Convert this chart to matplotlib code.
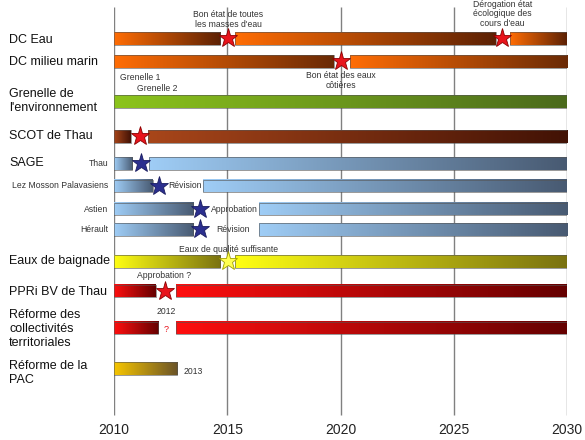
import matplotlib.pyplot as plt
import numpy as np
from matplotlib.colors import LinearSegmentedColormap
from matplotlib.transforms import blended_transform_factory

plt.rcParams['font.family'] = ['Liberation Sans', 'DejaVu Sans']

# rows of the timeline
row_names = ["DC Eau", "DC milieu marin", "Grenelle de\nl'environnement", "SCOT de Thau",
             "Thau", "Lez Mosson Palavasiens", "Astien", "Hérault",
             "Eaux de baignade", "PPRi BV de Thau",
             "Réforme des\ncollectivités\nterritoriales", "Réforme de la\nPAC"]
seg_starts = [[2010, 2015.35, 2027.5], [2010, 2020.4], [2010], [2010, 2011.5],
              [2010, 2011.55], [2010, 2013.95], [2010, 2016.4], [2010, 2016.4],
              [2010, 2015.35], [2010, 2012.75], [2010, 2012.75], [2010]]
seg_ends = [[2014.7, 2026.85, 2030], [2019.7, 2030], [2030], [2010.75, 2030],
            [2010.8, 2030], [2011.7, 2030], [2013.5, 2030], [2013.5, 2030],
            [2014.7, 2030], [2011.85, 2030], [2011.95, 2030], [2012.8]]
star_years = [[2015.05, 2027.15], [2020.0], [], [2011.15],
              [2011.2], [2012.0], [2013.8], [2013.8],
              [2015.05], [2012.25], [], []]
years = [2010, 2015, 2020, 2025, 2030]

# layout / style
row_y = [38.5, 61.5, 101.5, 136.5, 163.5, 186, 209, 229.5, 261.5, 291, 328, 368.5]
bar_h = 12.5
row_cols = [("#ff6d05", "#5c2104"), ("#ff6d05", "#6a2a06"), ("#8cc41c", "#4b6a1d"),
            ("#a8461a", "#421205"), ("#9fcdf6", "#485a72"), ("#9fcdf6", "#485a72"),
            ("#9fcdf6", "#485a72"), ("#9fcdf6", "#485a72"), ("#ffff14", "#7a7210"),
            ("#ff0f0f", "#650000"), ("#ff0f0f", "#650000"), ("#f7c600", "#6a5328")]
star_cols = [("#e8141c", "#8b0000")] * 4 + [("#2b2f8f", "#1a1d60")] * 4 + \
            [("#ffff50", "#a0a000"), ("#e8141c", "#8b0000"), ("#e8141c", "#8b0000"), ("#e8141c", "#8b0000")]

fig = plt.figure(figsize=(5.85, 4.40), dpi=100)
ax = fig.add_axes([114 / 585, 0, (567 - 114) / 585, 1])
ax.axis("off")

ax.vlines(years, 7, 415, color="#808080", lw=1, zorder=1)
for yr in years:
    ax.text(yr, 430, str(yr), ha="center", va="center", fontsize=10, color="#222222")

grad = np.linspace(0, 1, 256).reshape(1, -1)
for i in range(len(row_names)):
    cm = LinearSegmentedColormap.from_list("c%d" % i, row_cols[i])
    y = row_y[i]
    for s, e in zip(seg_starts[i], seg_ends[i]):
        ax.imshow(grad, cmap=cm, aspect="auto", extent=[s, e, y + bar_h / 2, y - bar_h / 2],
                  zorder=2, interpolation="bilinear")
        ax.add_patch(plt.Rectangle((s, y - bar_h / 2), e - s, bar_h, fill=False,
                                   ec="#555555", lw=0.6, alpha=0.7, zorder=3))
    for sx in star_years[i]:
        ax.plot(sx, y, marker="*", ms=14, color=star_cols[i][0], mec=star_cols[i][1],
                mew=0.6, zorder=4)

ax.set_xlim(2010, 2030)
ax.set_ylim(440, 0)

# row labels on the left
tr = blended_transform_factory(fig.transFigure, ax.transData)
big = {0: 40, 1: 62, 2: 101, 3: 136, 8: 261, 9: 292, 10: 329, 11: 373}
for i, yy in big.items():
    ax.text(9 / 585, yy, row_names[i], transform=tr, ha="left", va="center",
            fontsize=9, color="#111111", linespacing=1.25)
ax.text(9 / 585, 163.5, "SAGE", transform=tr, ha="left", va="center", fontsize=9, color="#111111")
for i in [4, 5, 6, 7]:
    ax.text(108 / 585, row_y[i], row_names[i], transform=tr, ha="right", va="center",
            fontsize=6.2, color="#333333")

# annotations
small = dict(fontsize=6.2, color="#333333")
ax.text(2015.05, 19.5, "Bon état de toutes\nles masses d'eau", ha="center", va="center", linespacing=1.1, **small)
ax.text(2027.15, 14, "Dérogation état\nécologique des\ncours d'eau", ha="center", va="center", linespacing=1.1, **small)
ax.text(2020.0, 80.5, "Bon état des eaux\ncôtières", ha="center", va="center", linespacing=1.1, **small)
ax.text(2010.25, 77, "Grenelle 1", ha="left", va="center", **small)
ax.text(2011.0, 88.5, "Grenelle 2", ha="left", va="center", **small)
ax.text(2012.4, 186, "Révision", ha="left", va="center", **small)
ax.text(2014.3, 209, "Approbation", ha="left", va="center", **small)
ax.text(2014.5, 229.5, "Révision", ha="left", va="center", **small)
ax.text(2015.05, 249, "Eaux de qualité suffisante", ha="center", va="center", **small)
ax.text(2012.2, 276, "Approbation ?", ha="center", va="center", **small)
ax.text(2012.3, 312, "2012", ha="center", va="center", **small)
ax.text(2012.3, 329, "?", ha="center", va="center", fontsize=6.5, color="#e8141c")
ax.text(2013.05, 371, "2013", ha="left", va="center", **small)

fig.savefig("out.png", dpi=100)
